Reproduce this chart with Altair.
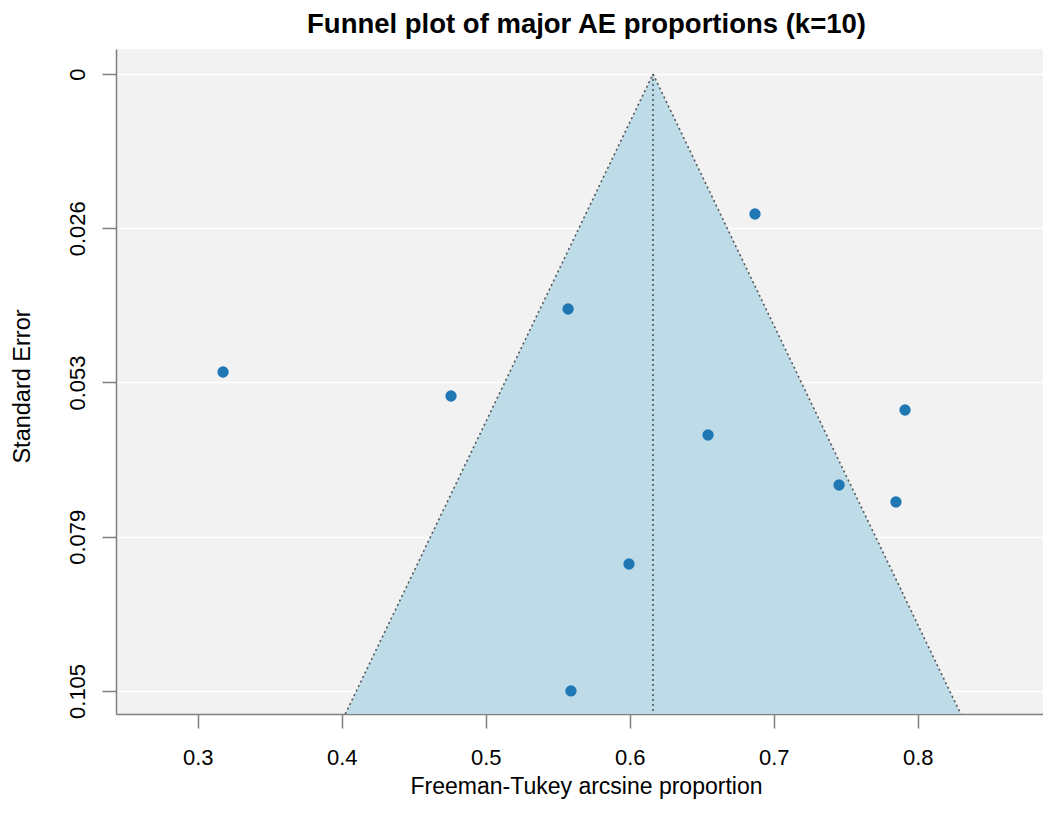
import altair as alt
import pandas as pd

# Study estimates (Freeman-Tukey transformed) and standard errors
yi = [0.6870, 0.5572, 0.3176, 0.4759, 0.7912, 0.6544, 0.7454, 0.7849, 0.5995, 0.5592]
sei = [0.02385, 0.04003, 0.05077, 0.05486, 0.05724, 0.06150, 0.07002, 0.07291, 0.08348, 0.10510]

pooled = 0.6162
z = 1.96
y_ticks = [0.0, 0.026275, 0.05255, 0.078825, 0.1051]
x_ticks = [0.3, 0.4, 0.5, 0.6, 0.7, 0.8]
x_domain = [0.24326, 0.88701]
y_domain = [-0.00426, 0.10903]

FONT = "Liberation Sans"
AXIS_GRAY = "#7f7f7f"

pts = pd.DataFrame({"yi": yi, "sei": sei})
ybot = y_domain[1]
funnel = pd.DataFrame({
    "sei": [0.0, ybot],
    "lo": [pooled, pooled - z * ybot],
    "hi": [pooled, pooled + z * ybot],
})
edges = pd.DataFrame({
    "side": ["l", "l", "r", "r"],
    "sei": [0.0, ybot, 0.0, ybot],
    "x": [pooled, pooled - z * ybot, pooled, pooled + z * ybot],
})
center = pd.DataFrame({"x": [pooled], "y1": [0.0], "y2": [ybot]})

xscale = alt.Scale(domain=x_domain, nice=False, zero=False)
yscale = alt.Scale(domain=y_domain, nice=False, zero=False, reverse=True)

xaxis = alt.Axis(
    values=x_ticks, format=".1f", grid=False,
    title="Freeman-Tukey arcsine proportion",
    titleFont=FONT, titleFontSize=23, titleFontWeight="normal", titleColor="black",
    titleBaseline="top", titleY=61, titleX=470, titleAlign="center",
    labelFont=FONT, labelFontSize=22, labelColor="black", labelPadding=19,
    domainColor=AXIS_GRAY, domainWidth=1.5,
    tickColor=AXIS_GRAY, tickWidth=1.5, tickSize=14,
)
yaxis = alt.Axis(
    values=y_ticks,
    labelExpr="datum.value == 0 ? '0' : format(datum.value, '.3f')",
    grid=True, gridColor="white", gridWidth=1.5,
    title="Standard Error",
    titleFont=FONT, titleFontSize=23.5, titleFontWeight="normal", titleColor="black",
    titleBaseline="alphabetic", titleX=-87, titleY=337, titleAngle=270,
    labelFont=FONT, labelFontSize=22, labelColor="black",
    labelAngle=270, labelAlign="center", labelBaseline="alphabetic", labelPadding=18,
    domainColor=AXIS_GRAY, domainWidth=1.5,
    tickColor=AXIS_GRAY, tickWidth=1.5, tickSize=14,
)

area = alt.Chart(funnel).mark_area(
    orient="horizontal", color="#bedbe8", opacity=1
).encode(
    y=alt.Y("sei:Q", scale=yscale, axis=yaxis),
    x=alt.X("lo:Q", scale=xscale, axis=xaxis),
    x2="hi:Q",
)

edge_lines = alt.Chart(edges).mark_line(
    color="#555555", strokeDash=[2, 3], strokeWidth=1.6
).encode(
    x=alt.X("x:Q", scale=xscale),
    y=alt.Y("sei:Q", scale=yscale),
    detail="side:N",
)

center_line = alt.Chart(center).mark_rule(
    color="#555555", strokeDash=[2, 3], strokeWidth=1.6
).encode(
    x=alt.X("x:Q", scale=xscale),
    y=alt.Y("y1:Q", scale=yscale),
    y2="y2:Q",
)

points = alt.Chart(pts).mark_circle(
    size=128, color="#1f77b4", opacity=1
).encode(
    x=alt.X("yi:Q", scale=xscale),
    y=alt.Y("sei:Q", scale=yscale),
)

chart = alt.layer(area, edge_lines, center_line, points).properties(
    width=927,
    height=665,
    title=alt.TitleParams(
        "Funnel plot of major AE proportions (k=10)",
        font=FONT, fontSize=27.5, fontWeight="bold", color="black",
        anchor="middle", baseline="alphabetic", offset=17, dy=28, dx=7,
    ),
    autosize=alt.AutoSizeParams(type="none"),
    padding={"left": 108, "top": 41, "right": 0, "bottom": 90},
).configure_view(
    fill="#f2f2f2", stroke=None,
)

chart.save("out.html", embed_options={"renderer": "svg", "actions": False})
